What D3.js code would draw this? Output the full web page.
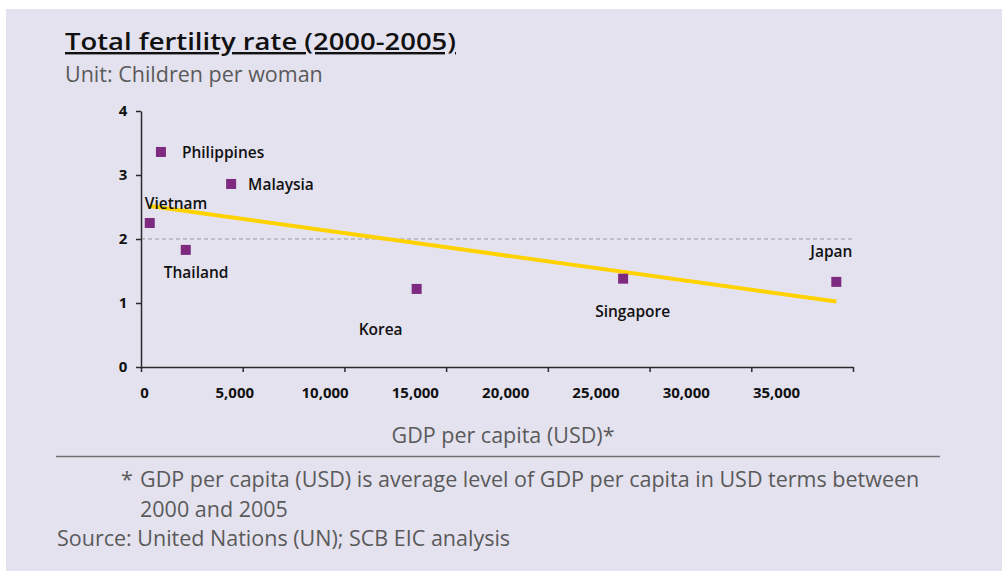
<!DOCTYPE html>
<html>
<head>
<meta charset="utf-8">
<script src="https://cdn.jsdelivr.net/npm/d3@7/dist/d3.min.js"></script>
<style>
  html, body { margin: 0; padding: 0; background: #ffffff; }
  svg { display: block; }
</style>
</head>
<body>
<svg id="chart" width="1002" height="571"></svg>
<script>
// Country series: average GDP per capita (USD, 2000-2005) vs total fertility rate
const countries = ["Vietnam", "Philippines", "Thailand", "Malaysia", "Korea", "Singapore", "Japan"];
const gdpPerCapita = [430, 980, 2200, 4430, 13550, 23700, 34180];
const fertilityRate = [2.25, 3.36, 1.83, 2.86, 1.22, 1.38, 1.33];

// Axis ticks
const xTickValues = [0, 5000, 10000, 15000, 20000, 25000, 30000, 35000];
const yTickValues = [0, 1, 2, 3, 4];
const replacementLevel = 2;

// Texts
const titleText = "Total fertility rate (2000-2005)";
const unitText = "Unit: Children per woman";
const xAxisTitle = "GDP per capita (USD)*";
const footnoteLines = ["GDP per capita (USD) is average level of GDP per capita in USD terms between", "2000 and 2005"];
const sourceText = "Source: United Nations (UN); SCB EIC analysis";

// Label placement relative to each marker (dx, dy)
const labelOffsets = {
  Vietnam: [-5, -14],
  Philippines: [21, 6],
  Thailand: [-22, 28],
  Malaysia: [17, 6],
  Korea: [-58, 46],
  Singapore: [-28, 38],
  Japan: [-26, -25]
};

const points = countries.map((c, i) => ({ name: c, gdp: gdpPerCapita[i], tfr: fertilityRate[i] }));

const svg = d3.select("#chart");
const FONT = "'Open Sans', 'Noto Sans', sans-serif";
const GREY = "#5a5a5a";

// Panel background
svg.append("rect").attr("x", 0).attr("y", 0).attr("width", 1002).attr("height", 571).attr("fill", "#ffffff");
svg.append("rect").attr("x", 6).attr("y", 9).attr("width", 996).attr("height", 562).attr("fill", "#E4E2EF");

// Title and unit
svg.append("text")
  .attr("x", 65).attr("y", 50)
  .attr("font-family", FONT).attr("font-size", 24).attr("font-weight", 600)
  .attr("fill", "#111").attr("text-decoration", "underline")
  .attr("textLength", 391).attr("lengthAdjust", "spacingAndGlyphs")
  .text(titleText);
svg.append("text")
  .attr("x", 65).attr("y", 82)
  .attr("font-family", FONT).attr("font-size", 21.5)
  .attr("fill", GREY)
  .text(unitText);

// Scales
const x = d3.scaleLinear().domain([0, 35000]).range([141, 853]);
const xLabel = d3.scaleLinear().domain([0, 35000]).range([144, 776]);
const y = d3.scaleLinear().domain([0, 4]).range([367, 111]);

// Replacement-level reference line
svg.append("line")
  .attr("x1", x(0)).attr("x2", x(35000))
  .attr("y1", y(replacementLevel)).attr("y2", y(replacementLevel))
  .attr("stroke", "#9a9a9a").attr("stroke-width", 1)
  .attr("stroke-dasharray", "4,3");

// Y axis
const yAxis = svg.append("g")
  .attr("transform", `translate(${x(0)},0)`)
  .call(d3.axisLeft(y).tickValues(yTickValues).tickSize(5).tickSizeOuter(0).tickPadding(9).tickFormat(d3.format("d")));
yAxis.select(".domain").attr("stroke", "#2b2b2b").attr("stroke-width", 1.5);
yAxis.selectAll(".tick line").attr("stroke", "#2b2b2b").attr("stroke-width", 1.5);
yAxis.selectAll(".tick text")
  .attr("font-family", FONT).attr("font-size", 15).attr("font-weight", 700)
  .attr("fill", "#111").attr("text-anchor", "middle").attr("dx", -4);

// X axis: tick marks
const xAxis = svg.append("g")
  .attr("transform", `translate(0,${y(0)})`)
  .call(d3.axisBottom(x).tickValues(xTickValues).tickSize(5).tickSizeOuter(0).tickFormat(""));
xAxis.select(".domain").attr("stroke", "#2b2b2b").attr("stroke-width", 1.5);
xAxis.selectAll(".tick line").attr("stroke", "#2b2b2b").attr("stroke-width", 1.5);

// X axis: tick labels
const xLabels = svg.append("g")
  .attr("transform", `translate(0,${y(0)})`)
  .call(d3.axisBottom(xLabel).tickValues(xTickValues).tickSize(0).tickPadding(20).tickFormat(d3.format(",")));
xLabels.select(".domain").remove();
xLabels.selectAll(".tick text")
  .attr("font-family", FONT).attr("font-size", 15).attr("font-weight", 700)
  .attr("fill", "#111");

// Least-squares trend line across the country range
const mx = d3.mean(points, d => d.gdp);
const my = d3.mean(points, d => d.tfr);
const slope = d3.sum(points, d => (d.gdp - mx) * (d.tfr - my)) / d3.sum(points, d => (d.gdp - mx) ** 2);
const intercept = my - slope * mx;
const [xMin, xMax] = d3.extent(points, d => d.gdp);
svg.append("line")
  .attr("x1", x(xMin)).attr("y1", y(intercept + slope * xMin))
  .attr("x2", x(xMax)).attr("y2", y(intercept + slope * xMax))
  .attr("stroke", "#FFD200").attr("stroke-width", 4);

// Markers
const m = 10;
svg.append("g").selectAll("rect")
  .data(points).join("rect")
  .attr("x", d => x(d.gdp) - m / 2)
  .attr("y", d => y(d.tfr) - m / 2)
  .attr("width", m).attr("height", m)
  .attr("fill", "#7D2A80");

// Country labels
svg.append("g").selectAll("text")
  .data(points).join("text")
  .attr("x", d => x(d.gdp) + labelOffsets[d.name][0])
  .attr("y", d => y(d.tfr) + labelOffsets[d.name][1])
  .attr("font-family", FONT).attr("font-size", 15.5).attr("font-weight", 600)
  .attr("fill", "#111")
  .text(d => d.name);

// Axis title
svg.append("text")
  .attr("x", 503).attr("y", 443)
  .attr("text-anchor", "middle")
  .attr("font-family", FONT).attr("font-size", 21.5)
  .attr("fill", GREY)
  .text(xAxisTitle);

// Separator
svg.append("line")
  .attr("x1", 56).attr("x2", 940).attr("y1", 456.5).attr("y2", 456.5)
  .attr("stroke", "#707070").attr("stroke-width", 1.5);

// Footnote and source
svg.append("text")
  .attr("x", 121).attr("y", 487)
  .attr("font-family", FONT).attr("font-size", 21.5).attr("fill", GREY)
  .text("*");
svg.append("g").selectAll("text")
  .data(footnoteLines).join("text")
  .attr("x", 140)
  .attr("y", (d, i) => 487 + i * 29.5)
  .attr("font-family", FONT).attr("font-size", 21.5).attr("fill", GREY)
  .text(d => d);
svg.append("text")
  .attr("x", 57).attr("y", 545.5)
  .attr("font-family", FONT).attr("font-size", 21.5).attr("fill", GREY)
  .text(sourceText);
</script>
</body>
</html>
